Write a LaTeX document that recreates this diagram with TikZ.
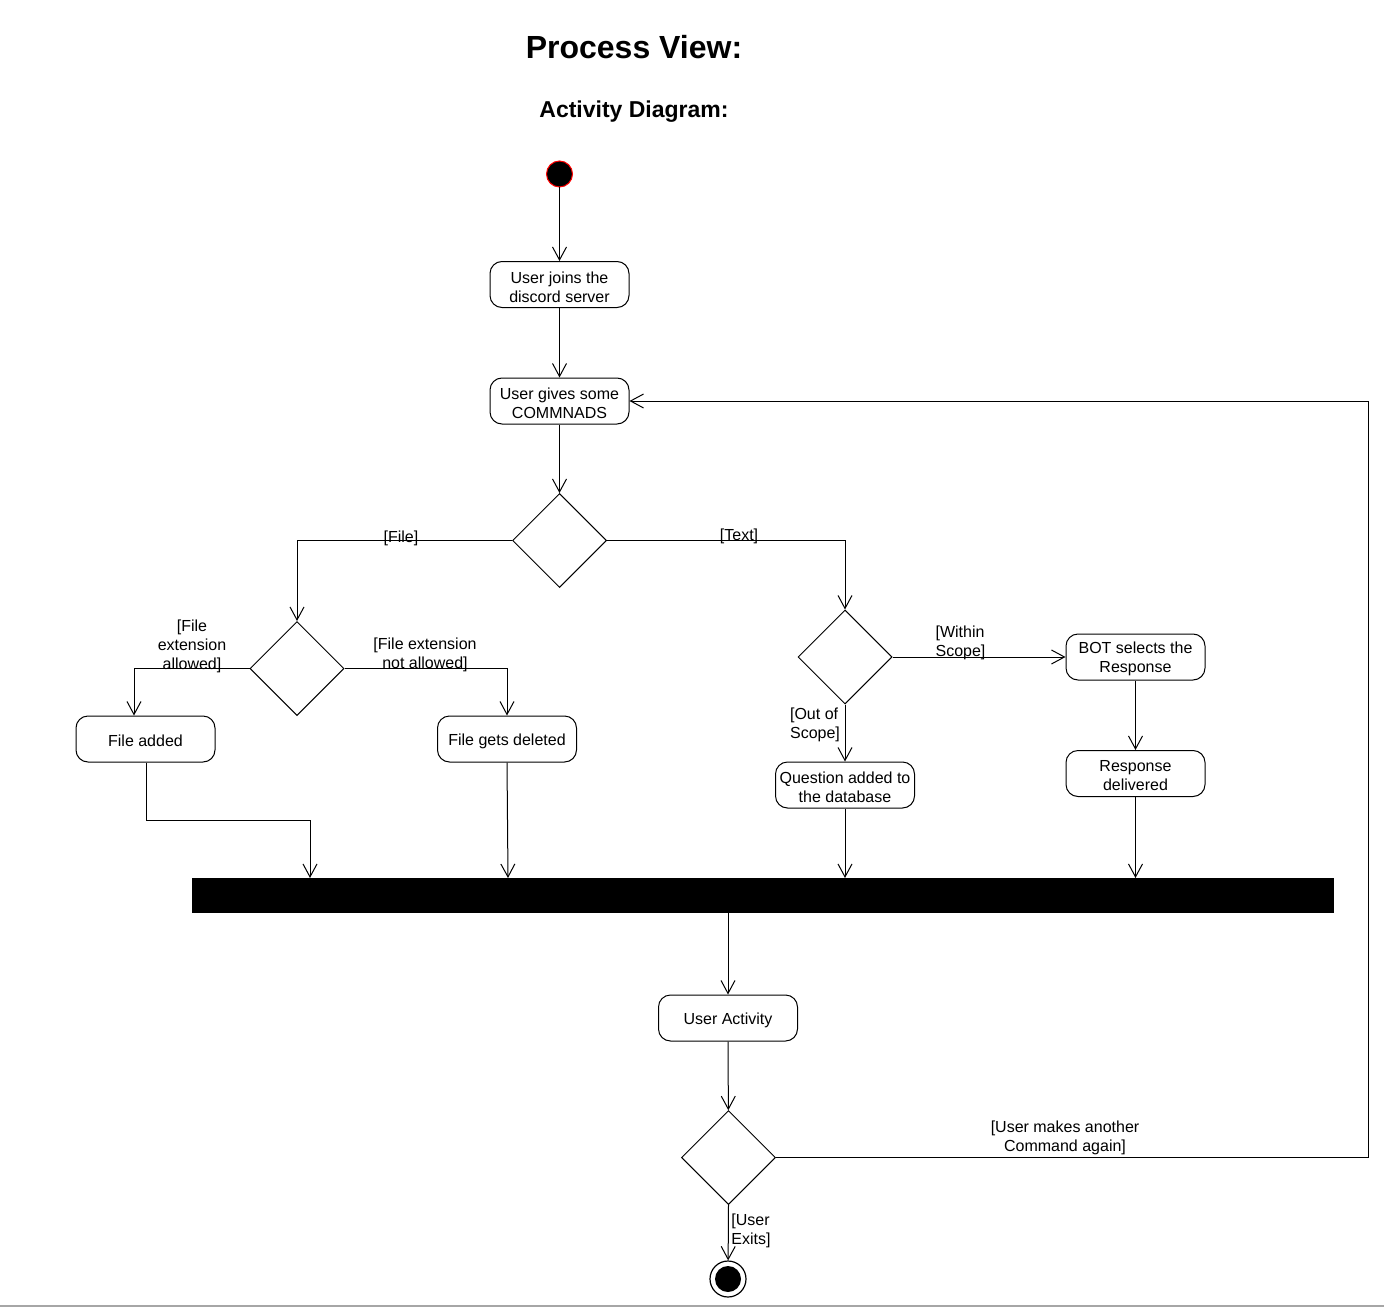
\documentclass[tikz,border=0pt]{standalone}
\usepackage{fontspec}
\setmainfont{Liberation Sans}
\usetikzlibrary{shapes.geometric,arrows.meta}
\begin{document}
\begin{tikzpicture}[x=1pt,y=-1pt,
  every node/.style={font=\fontsize{16}{19}\selectfont},
  act/.style={draw,line width=1pt,rounded corners=12pt,minimum width=139pt,minimum height=46pt,inner sep=1pt,align=center},
  dec/.style={draw,line width=1pt,diamond,minimum width=94pt,minimum height=94pt,inner sep=0pt},
  lbl/.style={inner sep=0pt,align=center},
  flow/.style={line width=1pt,-{Straight Barb[length=13pt,width=14pt,line width=1pt]}},
  line/.style={line width=1pt}]
\useasboundingbox (0,0) rectangle (1384,1308);
\fill[white] (0,0) rectangle (1384,1308);
\draw[gray!70,line width=2pt] (0,1306) -- (1384,1306);

\node[lbl,font=\fontsize{32}{36}\selectfont\bfseries] (title) at (634,47.5) {Process View:};
\node[lbl,font=\fontsize{23}{26}\selectfont\bfseries] (sub) at (634,112) {Activity Diagram:};

\node[circle,draw=red,fill=black,line width=1pt,minimum size=26pt,inner sep=0pt] (start) at (559.5,174) {};
\node[act] (b1) at (559.5,284.5) {};
\node[act] (b2) at (559.5,401) {};
\node[dec] (d1) at (559.5,540.5) {};
\node[dec] (d2) at (297,668.5) {};
\node[dec] (d3) at (845,657) {};
\node[act] (fadd) at (145.5,739) {};
\node[act] (fdel) at (507,739) {};
\node[act] (bot) at (1135.5,657) {};
\node[act] (resp) at (1135.5,773.5) {};
\node[act] (q) at (845,785) {};
\node[fill=black,minimum width=1142pt,minimum height=35pt,inner sep=0pt] (bar) at (763,895.5) {};
\node[act] (ua) at (728,1018) {};
\node[dec] (d4) at (728.5,1157.5) {};
\node[circle,draw,line width=1.2pt,minimum size=36pt,inner sep=0pt] (endn) at (728,1279) {};
\node[circle,fill=black,minimum size=26pt,inner sep=0pt] (endin) at (728,1279) {};

\node[lbl] (b1t) at (559.5,287) {User joins the\\discord server};
\node[lbl] (b2t) at (559.5,403) {User gives some\\COMMNADS};
\node[lbl] (faddt) at (145.5,741) {File added};
\node[lbl] (fdelt) at (507,741) {File gets deleted};
\node[lbl] (bott) at (1135.5,659) {BOT selects the\\Response};
\node[lbl] (respt) at (1135.5,776) {Response\\delivered};
\node[lbl] (qt) at (845,787.5) {Question added to\\the database};
\node[lbl] (uat) at (728,1020.5) {User Activity};

\coordinate (j1) at (310,878);
\coordinate (j2) at (508,878);
\coordinate (j3) at (845,878);
\coordinate (j4) at (1135.5,878);
\coordinate (k1) at (146,820);
\coordinate (loop) at (1368,1157.5);

\draw[flow] (start) -- (b1);
\draw[flow] (b1) -- (b2);
\draw[flow] (b2) -- (d1);
\draw[flow] (d1.west) -| (d2.north);
\draw[flow] (d1.east) -| (d3.north);
\draw[flow] (d2.west) -| ([xshift=-11.5pt]fadd.north);
\draw[flow] (d2.east) -| (fdel.north);
\draw[flow] (d3.east) -- (bot.west);
\draw[flow] (d3.south) -- (q.north);
\draw[flow] (bot) -- (resp);
\draw[flow] (fadd.south -| k1) -- (k1) -| (j1);
\draw[flow] (fdel.south) -- (j2);
\draw[flow] (q.south) -- (j3);
\draw[flow] (resp.south) -- (j4);
\draw[flow] (ua.north |- bar.south) -- (ua.north);
\draw[flow] (ua) -- (d4);
\draw[flow] (d4.east) -- (loop) |- (b2.east);
\draw[flow] (d4.south) -- (endn);

\node[lbl] (lfile) at (401,538) {[File]};
\node[lbl] (ltext) at (739,536) {[Text]};
\node[lbl] (lallow) at (192,646.5) {[File\\extension\\allowed]};
\node[lbl] (lnot) at (425,654.5) {[File extension\\not allowed]};
\node[lbl,align=left] (lwithin) at (960.5,642.5) {[Within\\Scope]};
\node[lbl,align=left] (lout) at (815,724.5) {[Out of\\Scope]};
\node[lbl] (lagain) at (1065,1137.5) {[User makes another\\Command again]};
\node[lbl,align=left] (lexit) at (751,1230.5) {[User\\Exits]};
\end{tikzpicture}
\end{document}
